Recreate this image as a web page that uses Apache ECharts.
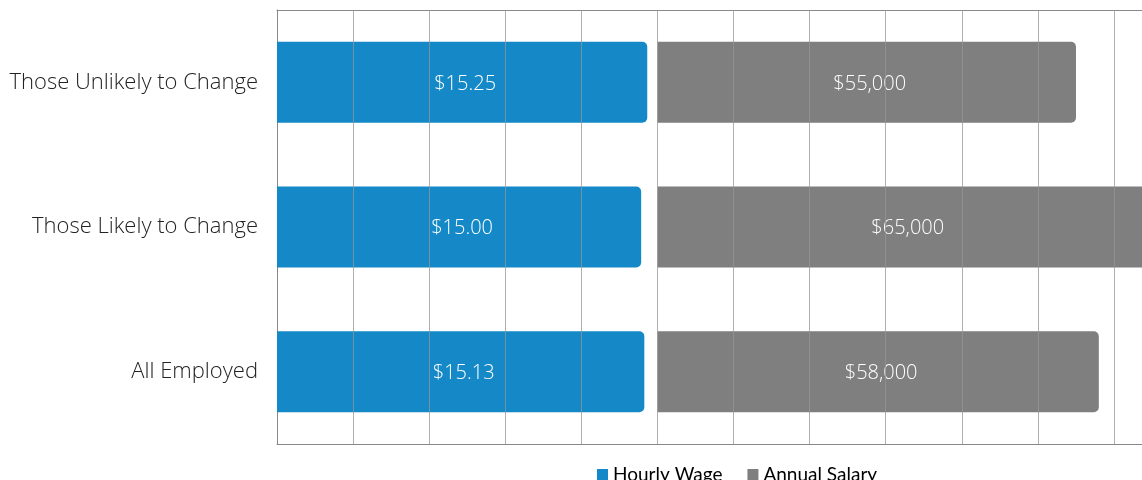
<!DOCTYPE html>
<html>
<head>
<meta charset="utf-8">
<script src="https://cdn.jsdelivr.net/npm/echarts@6/dist/echarts.min.js"></script>
<style>
  html, body { margin: 0; padding: 0; background: #fff; }
  #chart { width: 1142px; height: 480px; }
</style>
</head>
<body>
<div id="chart"></div>
<script>
// data
const categories = ['Those Unlikely to Change', 'Those Likely to Change', 'All Employed']
const hourlyWage = [15.25, 15.00, 15.13]
const annualSalary = [55000, 65000, 58000]
const seriesNames = ['Hourly Wage', 'Annual Salary']

const blue = '#1589C7'
const gray = '#7F7F7F'
const gridColor = 'rgba(150, 150, 150, 0.75)'
const borderColor = '#888'
const labelFont = "'Open Sans', 'Noto Sans', sans-serif"

// left panel: 5 grid cells; right panel: 10000 per cell, cut off by the page edge
const wageMax = 15.67
const cellPx = 76.09
const salaryMax = Math.round((1142 - 657.5) / cellPx * 10000)

const chart = echarts.init(document.getElementById('chart'))

const hiddenAxis = { axisLabel: { show: false }, axisTick: { show: false } }
const frameLine = { show: true, lineStyle: { color: borderColor } }

const option = {
  animation: false,
  legend: {
    data: seriesNames,
    left: 592,
    top: 460,
    itemWidth: 11,
    itemHeight: 11,
    itemGap: 25,
    icon: 'rect',
    textStyle: { fontSize: 19, color: '#000', fontFamily: "Lato, 'Liberation Sans', sans-serif" }
  },
  grid: [
    { left: 277, top: 10, width: cellPx * 5, height: 434, show: false },
    { left: 277 + cellPx * 5, top: 10, right: 0, height: 434, show: false }
  ],
  xAxis: [
    {
      gridIndex: 0, type: 'value', min: 0, max: wageMax, interval: wageMax / 5, z: 3,
      ...hiddenAxis, axisLine: frameLine,
      splitLine: { showMinLine: false, lineStyle: { color: gridColor, width: 1 } }
    },
    {
      gridIndex: 0, type: 'value', position: 'top', min: 0, max: wageMax, interval: wageMax / 5,
      ...hiddenAxis, axisLine: frameLine, splitLine: { show: false }
    },
    {
      gridIndex: 1, type: 'value', min: 0, max: salaryMax, interval: 10000, z: 3,
      ...hiddenAxis, axisLine: frameLine,
      splitLine: { showMinLine: false, lineStyle: { color: gridColor, width: 1 } }
    },
    {
      gridIndex: 1, type: 'value', position: 'top', min: 0, max: salaryMax, interval: 10000,
      ...hiddenAxis, axisLine: frameLine, splitLine: { show: false }
    }
  ],
  yAxis: [
    {
      gridIndex: 0, type: 'category', data: categories, inverse: true,
      axisLine: frameLine, axisTick: { show: false },
      axisLabel: { margin: 19, fontSize: 22, fontWeight: 300, color: '#222', fontFamily: labelFont }
    },
    {
      gridIndex: 1, type: 'category', data: categories, inverse: true,
      axisLine: { show: false }, axisTick: { show: false }, axisLabel: { show: false }
    }
  ],
  series: [
    {
      name: seriesNames[0],
      type: 'bar',
      xAxisIndex: 0,
      yAxisIndex: 0,
      data: hourlyWage,
      barWidth: 81,
      itemStyle: { color: blue, borderRadius: [0, 5, 5, 0] },
      label: {
        show: true, position: 'inside', offset: [3, 1.5], color: '#fff', fontSize: 20, fontWeight: 300, fontFamily: labelFont,
        formatter: p => '$' + p.value.toFixed(2)
      }
    },
    {
      name: seriesNames[1],
      type: 'bar',
      xAxisIndex: 2,
      yAxisIndex: 1,
      data: annualSalary,
      barWidth: 81,
      clip: false,
      itemStyle: { color: gray, borderRadius: [0, 5, 5, 0] },
      label: {
        show: true, position: 'inside', offset: [3, 1.5], color: '#fff', fontSize: 20, fontWeight: 300, fontFamily: labelFont,
        formatter: p => '$' + p.value.toLocaleString('en-US')
      }
    }
  ]
}

chart.setOption(option)
</script>
</body>
</html>
